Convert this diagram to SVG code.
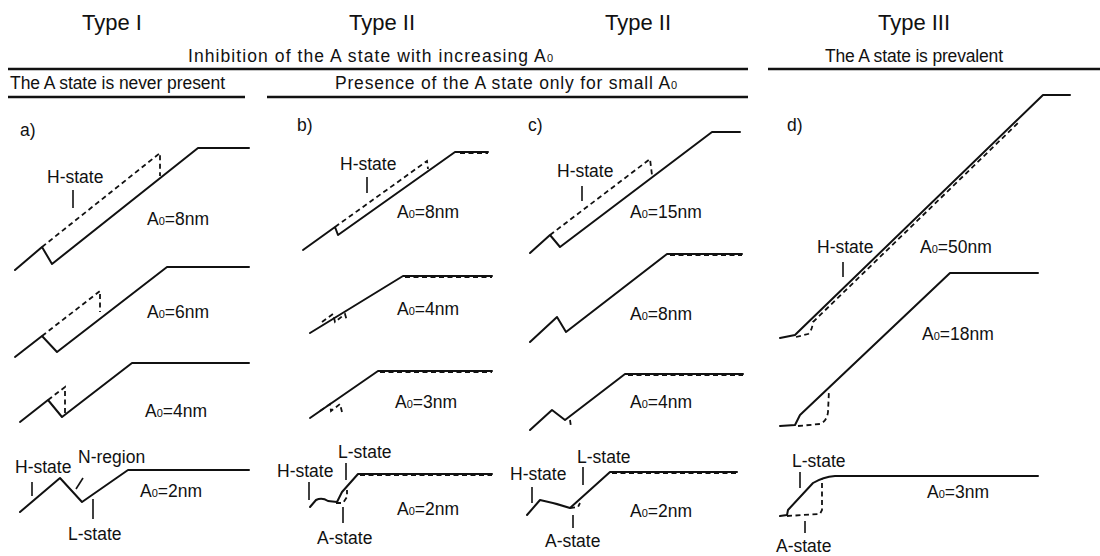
<svg xmlns="http://www.w3.org/2000/svg" width="1100" height="556" viewBox="0 0 1100 556">
<style>
.t{font-family:"Liberation Sans",Arial,sans-serif;fill:#111}
.h{font-size:22px;text-anchor:middle}
.s{font-size:17.5px}
.l{font-size:17.5px}
.sub{font-size:11px}
.c{fill:none;stroke:#111;stroke-width:2;stroke-linejoin:round;stroke-linecap:round}
.d{fill:none;stroke:#111;stroke-width:1.8;stroke-dasharray:5 3.5}
.k{fill:none;stroke:#111;stroke-width:1.6}
.r{stroke:#111;stroke-width:2.5}
</style>
<rect width="1100" height="556" fill="#fff"/>
<g id="header">
<text class="t h" x="112" y="30">Type I</text>
<text class="t h" x="382" y="30">Type II</text>
<text class="t h" x="638" y="30">Type II</text>
<text class="t h" x="914" y="30">Type III</text>
<text class="t s" x="188" y="62" textLength="365">Inhibition of the A state with increasing A<tspan class="sub">0</tspan></text>
<text class="t s" x="825" y="62" textLength="178">The A state is prevalent</text>
<text class="t s" x="10" y="89" textLength="215">The A state is never present</text>
<text class="t s" x="335" y="89" textLength="342">Presence of the A state only for small A<tspan class="sub">0</tspan></text>
<line class="r" x1="8" y1="69" x2="748" y2="69"/>
<line class="r" x1="768" y1="69" x2="1100" y2="69"/>
<line class="r" x1="8" y1="97" x2="245" y2="97"/>
<line class="r" x1="267" y1="97" x2="748" y2="97"/>
</g>
<g id="panel-a">
<text class="t l" x="20" y="136">a)</text>
<path class="c" d="M15,270 L42,247 L52,264 L198,148 L249,148"/>
<path class="d" d="M42,247 L160,153 L160,176"/>
<text class="t l" x="47" y="183">H-state</text>
<line class="k" x1="73" y1="190" x2="73" y2="208"/>
<text class="t l" x="147" y="225">A<tspan class="sub">0</tspan>=8nm</text>
<path class="c" d="M15,357 L42,336 L57,352 L167,267 L249,267"/>
<path class="d" d="M42,336 L100,291 L100,312"/>
<text class="t l" x="147" y="318">A<tspan class="sub">0</tspan>=6nm</text>
<path class="c" d="M20,422 L48,400 L62,417 L132,363 L249,363"/>
<path class="d" d="M48,400 L65,387 L65,414"/>
<text class="t l" x="145" y="417">A<tspan class="sub">0</tspan>=4nm</text>
<path class="c" d="M20,512 L60,478 L82,502 L128,470 L249,470"/>
<text class="t l" x="15" y="473">H-state</text>
<line class="k" x1="32" y1="482" x2="32" y2="496"/>
<text class="t l" x="78" y="463">N-region</text>
<line class="k" x1="83" y1="478" x2="76" y2="489"/>
<line class="k" x1="93" y1="499" x2="93" y2="519"/>
<text class="t l" x="68" y="540">L-state</text>
<text class="t l" x="140" y="497">A<tspan class="sub">0</tspan>=2nm</text>
</g>
<g id="panel-b">
<text class="t l" x="297" y="131">b)</text>
<path class="c" d="M303,250 L335,227 L338,235 L455,152 L488,152"/>
<path class="d" d="M335,227 L427,161 L428,169 M460,153 L488,153"/>
<text class="t l" x="340" y="170">H-state</text>
<line class="k" x1="367" y1="177" x2="367" y2="193"/>
<text class="t l" x="397" y="218">A<tspan class="sub">0</tspan>=8nm</text>
<path class="c" d="M310,333 L403,276 L492,276"/>
<path class="d" d="M322,322 L333,314 L335,322 L345,314 L347,321 M405,277 L492,277"/>
<text class="t l" x="397" y="315">A<tspan class="sub">0</tspan>=4nm</text>
<path class="c" d="M310,418 L378,371 L492,371"/>
<path class="d" d="M320,411 L330,404 L331,411 L340,404 L342,412 M380,372 L492,372"/>
<text class="t l" x="395" y="408">A<tspan class="sub">0</tspan>=3nm</text>
<path class="c" d="M310,507 L316,500 Q322,497 328,501 L337,502 L342,492 L358,474 L492,474"/>
<path class="d" d="M336,503 L343,503 L347,497 L347,490 M360,475 L492,475"/>
<text class="t l" x="277" y="477">H-state</text>
<line class="k" x1="309" y1="482" x2="309" y2="500"/>
<text class="t l" x="338" y="458">L-state</text>
<line class="k" x1="346" y1="463" x2="346" y2="480"/>
<line class="k" x1="343" y1="507" x2="343" y2="523"/>
<text class="t l" x="317" y="544">A-state</text>
<text class="t l" x="397" y="515">A<tspan class="sub">0</tspan>=2nm</text>
</g>
<g id="panel-c">
<text class="t l" x="528" y="131">c)</text>
<path class="c" d="M530,253 L550,235 L560,247 L712,132 L740,132"/>
<path class="d" d="M550,235 L650,159 L652,175"/>
<text class="t l" x="557" y="177">H-state</text>
<line class="k" x1="582" y1="186" x2="582" y2="201"/>
<text class="t l" x="630" y="218">A<tspan class="sub">0</tspan>=15nm</text>
<path class="c" d="M530,342 L557,317 L566,332 L667,254 L742,254"/>
<path class="d" d="M670,255 L742,255"/>
<text class="t l" x="630" y="320">A<tspan class="sub">0</tspan>=8nm</text>
<path class="c" d="M530,430 L552,410 L565,420 L625,374 L743,374"/>
<path class="d" d="M570,420 L571,427 M628,375 L743,375"/>
<text class="t l" x="630" y="408">A<tspan class="sub">0</tspan>=4nm</text>
<path class="c" d="M527,515 L540,500 Q555,503 570,508 L610,472 L737,472"/>
<path class="d" d="M570,508 L578,507 L580,503 M612,473 L737,473"/>
<text class="t l" x="510" y="480">H-state</text>
<line class="k" x1="532" y1="487" x2="532" y2="503"/>
<text class="t l" x="577" y="463">L-state</text>
<line class="k" x1="583" y1="467" x2="583" y2="485"/>
<line class="k" x1="573" y1="515" x2="573" y2="528"/>
<text class="t l" x="545" y="547">A-state</text>
<text class="t l" x="630" y="517">A<tspan class="sub">0</tspan>=2nm</text>
</g>
<g id="panel-d">
<text class="t l" x="787" y="131">d)</text>
<path class="c" d="M780,338 L795,335 L797,333 L1043,95 L1070,95"/>
<path class="d" d="M796,337 L808,334 Q812,331 813,322 L1020,121"/>
<text class="t l" x="817" y="253">H-state</text>
<line class="k" x1="843" y1="262" x2="843" y2="277"/>
<text class="t l" x="920" y="253">A<tspan class="sub">0</tspan>=50nm</text>
<path class="c" d="M780,426 L795,425 L800,415 L950,273 L1038,273"/>
<path class="d" d="M798,426 L820,424 Q827,421 828,412 L829,390"/>
<text class="t l" x="922" y="340">A<tspan class="sub">0</tspan>=18nm</text>
<path class="c" d="M780,516 L787,515 L788,510 L813,483 Q823,477 835,476 L1038,476"/>
<path class="d" d="M787,516 L820,514 L822,510 L822,478"/>
<text class="t l" x="792" y="467">L-state</text>
<line class="k" x1="800" y1="472" x2="800" y2="488"/>
<line class="k" x1="805" y1="521" x2="805" y2="533"/>
<text class="t l" x="776" y="552">A-state</text>
<text class="t l" x="927" y="498">A<tspan class="sub">0</tspan>=3nm</text>
</g>
</svg>
